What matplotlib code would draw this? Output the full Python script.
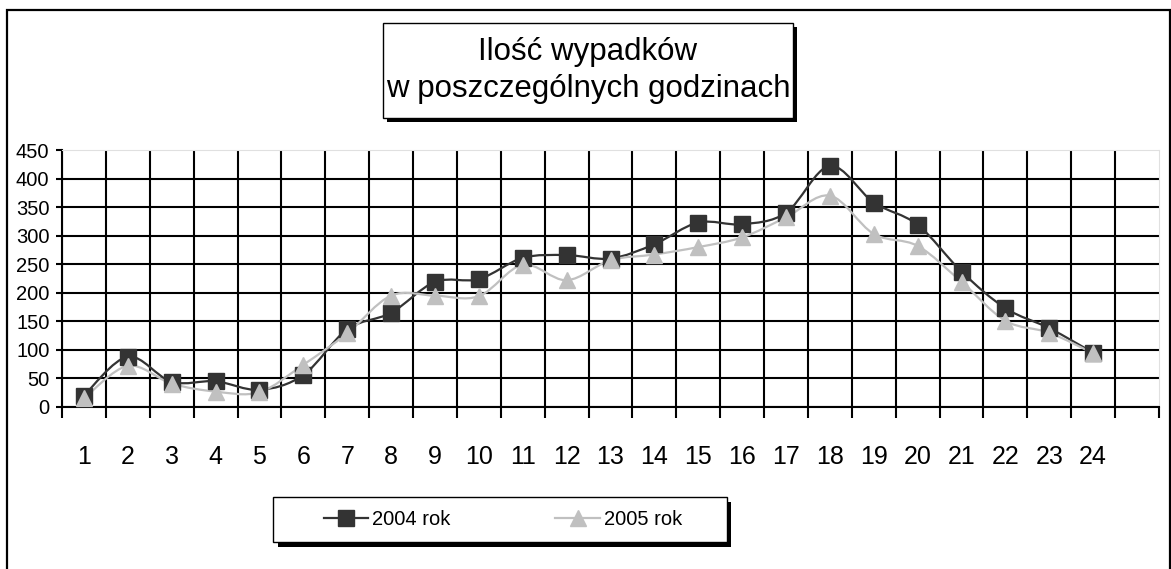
import numpy as np
import matplotlib.pyplot as plt
from matplotlib.path import Path
from matplotlib.patches import PathPatch, Rectangle
from matplotlib.lines import Line2D

plt.rcParams['font.family'] = ['Liberation Sans', 'DejaVu Sans']

hours = list(range(1, 25))
rok_2004 = [20, 88, 44, 45, 30, 56, 136, 165, 219, 224, 261, 266,
            260, 285, 323, 320, 340, 422, 358, 319, 237, 173, 138, 95]
rok_2005 = [15, 72, 41, 27, 26, 74, 129, 195, 195, 194, 249, 222,
            257, 267, 280, 297, 332, 370, 303, 282, 219, 151, 130, 94]
labels = ['2004 rok', '2005 rok']
y_ticks = list(range(0, 451, 50))
title = 'Ilość wypadków\nw poszczególnych godzinach'

c2004 = '#333333'
c2005 = '#c0c0c0'

W, H = 1171, 569


def smooth_path(x, y):
    # excel-like smoothed line: cubic bezier through the points
    x = np.asarray(x, float)
    y = np.asarray(y, float)
    n = len(x)
    verts = [(x[0], y[0])]
    codes = [Path.MOVETO]
    for i in range(n - 1):
        x0, y0 = (x[i - 1], y[i - 1]) if i > 0 else (x[i], y[i])
        x3, y3 = (x[i + 2], y[i + 2]) if i + 2 < n else (x[i + 1], y[i + 1])
        c1 = (x[i] + (x[i + 1] - x0) / 6, y[i] + (y[i + 1] - y0) / 6)
        c2 = (x[i + 1] - (x3 - x[i]) / 6, y[i + 1] - (y3 - y[i]) / 6)
        verts += [c1, c2, (x[i + 1], y[i + 1])]
        codes += [Path.CURVE4] * 3
    return Path(verts, codes)


def fbox(x0, y0, x1, y1):
    # pixel box (from top-left) -> figure fraction
    return x0 / W, 1 - y1 / H, (x1 - x0) / W, (y1 - y0) / H


fig = plt.figure(figsize=(W / 100, H / 100), dpi=100)
ax = fig.add_axes([62 / W, 1 - 407 / H, (1159 - 62) / W, (407 - 150) / H])

for vals, col in [(rok_2004, c2004), (rok_2005, c2005)]:
    ax.add_patch(PathPatch(smooth_path(hours, vals), fill=False, edgecolor=col, lw=1.6, zorder=3))
ax.plot(hours, rok_2004, ls='none', marker='s', ms=11, color=c2004, zorder=4)
ax.plot(hours, rok_2005, ls='none', marker='^', ms=11, color=c2005, zorder=5)

ax.set_xlim(0.5, 25.5)
ax.set_ylim(0, 450)
ax.set_xticks(hours)
ax.set_xticklabels([str(h) for h in hours], fontsize=18)
ax.set_xticks(np.arange(0.5, 25.6, 1), minor=True)
ax.tick_params(axis='x', which='major', length=0, pad=27)
ax.tick_params(axis='x', which='minor', length=8, width=1.5, color='black')
ax.set_yticks(y_ticks)
ax.set_yticklabels([str(v) for v in y_ticks], fontsize=14.5)
ax.tick_params(axis='y', length=4, width=1.5, pad=5)

for v in y_ticks[:-1]:
    ax.axhline(v, color='black', lw=1.5, zorder=1)
for b in np.arange(0.5, 25, 1):
    ax.axvline(b, color='black', lw=1.5, zorder=1)

for s in ['top', 'right']:
    ax.spines[s].set_color('#e0e0e0')
ax.spines['left'].set_linewidth(1.5)
ax.spines['bottom'].set_linewidth(1.5)

# outer frame
fig.add_artist(Rectangle((7 / W, -0.02), (1170 - 7) / W, 1 - 10 / H + 0.02,
                         transform=fig.transFigure, fill=False, ec='black', lw=1.6))

# title box with shadow
x, y, w, h = fbox(387, 27, 797, 122)
fig.add_artist(Rectangle((x, y), w, h, transform=fig.transFigure, fc='black', ec='none'))
x, y, w, h = fbox(383, 23, 793, 118)
fig.add_artist(Rectangle((x, y), w, h, transform=fig.transFigure, fc='white', ec='black', lw=1))
fig.text(x + w / 2, y + h / 2, title, ha='center', va='center', fontsize=22.5, linespacing=1.3)

# legend box with shadow
x, y, w, h = fbox(278, 502, 731, 547)
fig.add_artist(Rectangle((x, y), w, h, transform=fig.transFigure, fc='black', ec='none'))
x, y, w, h = fbox(273, 497, 727, 542)
fig.add_artist(Rectangle((x, y), w, h, transform=fig.transFigure, fc='white', ec='black', lw=1))
handles = [Line2D([], [], color=c2004, lw=1.6, marker='s', ms=11),
           Line2D([], [], color=c2005, lw=1.6, marker='^', ms=11)]
fig.legend(handles, labels, loc='center', bbox_to_anchor=(x + w / 2 + 3 / W, y + h / 2),
           ncol=2, frameon=False, fontsize=14.5, handlelength=2.2,
           handletextpad=0.2, columnspacing=5.2)

fig.savefig('out.png', dpi=100)
